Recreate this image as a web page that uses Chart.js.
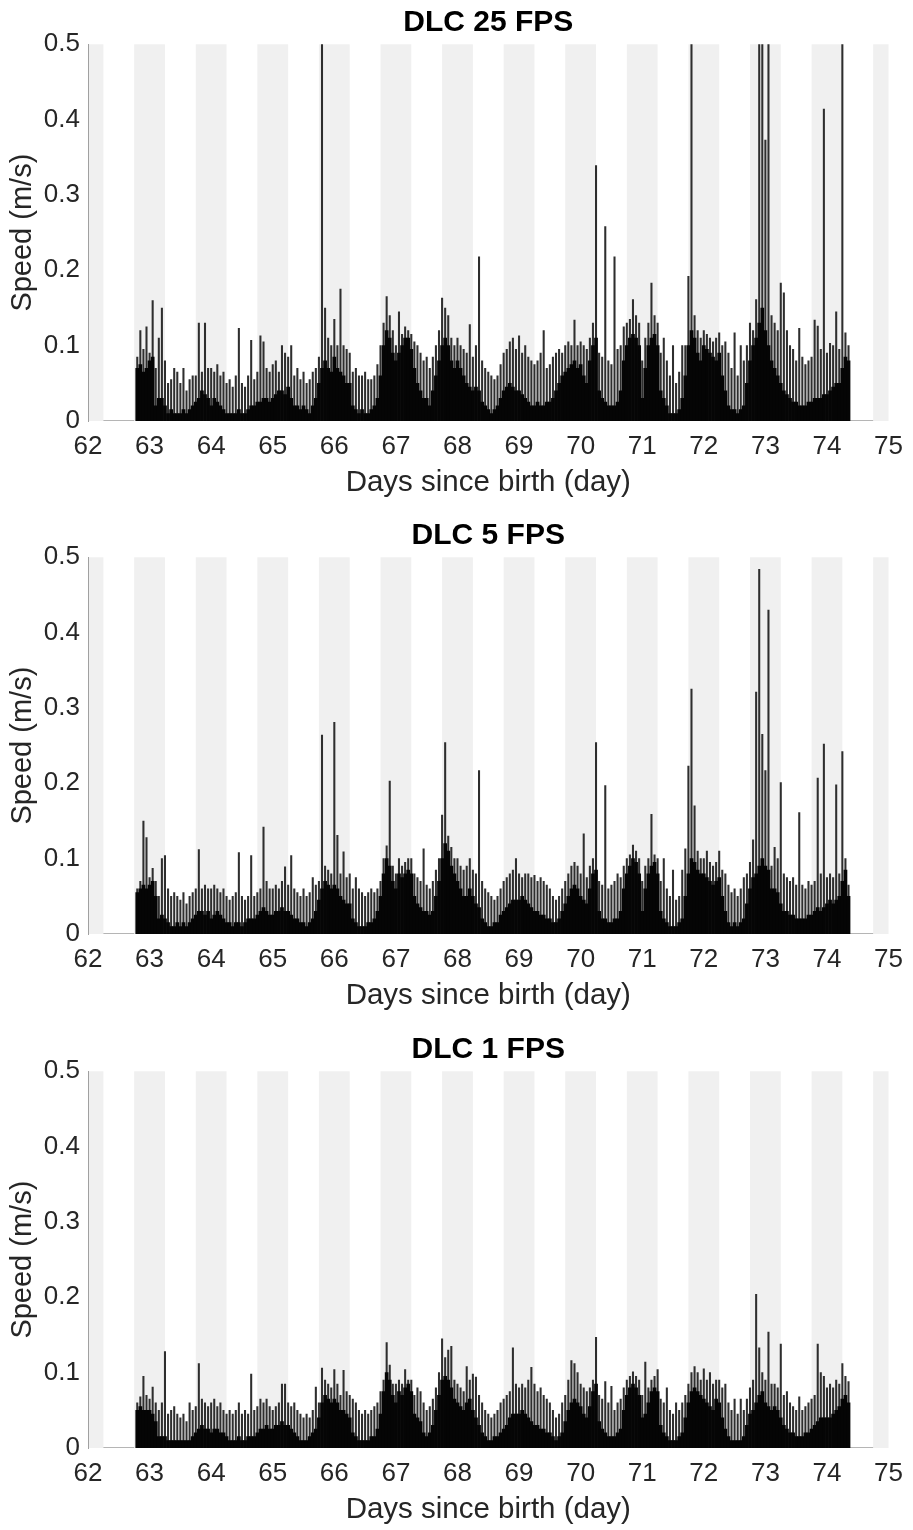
<!DOCTYPE html>
<html>
<head>
<meta charset="utf-8">
<script src="https://cdn.jsdelivr.net/npm/chart.js@4.4.1/dist/chart.umd.min.js"></script>
<style>
  body { margin: 0; background: #fff; width: 913px; height: 1530px; overflow: hidden; position: relative; }
  canvas { position: absolute; left: 0; }
</style>
</head>
<body>
<canvas id="fps25" width="913" height="513" style="top:0px"></canvas>
<canvas id="fps5" width="913" height="513" style="top:513px"></canvas>
<canvas id="fps1" width="913" height="513" style="top:1027px"></canvas>
<script>
//////////////////////////////// bins (day) ////////////////////////////////////
// one value every 0.05 day, first bin at 62.80, last at 74.35
const binStart = 62.8
const binStep = 0.05

// lights-off periods (grey), in days since birth
const nightStart = [61.75, 62.75, 63.75, 64.75, 65.75, 66.75, 67.75, 68.75, 69.75, 70.75, 71.75, 72.75, 73.75, 74.75]
const nightEnd = [62.25, 63.25, 64.25, 65.25, 66.25, 67.25, 68.25, 69.25, 70.25, 71.25, 72.25, 73.25, 74.25, 75.25]

// stretches recorded as zero speed
const idleSpans = [[62.25, 62.75], [74.35, 74.75]]

//////////////////////////////// DLC 25 FPS ////////////////////////////////////
// peak = highest spike in the bin, body = dense level of the trace
const peak25 = [
  0.085, 0.12, 0.095, 0.125,
  0.09, 0.16, 0.07, 0.11, 0.15, 0.08, 0.05, 0.055, 0.07, 0.065, 0.05, 0.07, 0.04, 0.055, 0.06, 0.06, 0.13, 0.065, 0.13, 0.07, // 63
  0.07, 0.065, 0.075, 0.06, 0.065, 0.05, 0.055, 0.045, 0.06, 0.123, 0.05, 0.045, 0.06, 0.107, 0.055, 0.065, 0.113, 0.105, 0.07, 0.065, // 64
  0.075, 0.08, 0.065, 0.1, 0.09, 0.085, 0.1, 0.06, 0.07, 0.055, 0.065, 0.05, 0.055, 0.065, 0.07, 0.085, 0.5, 0.15, 0.11, 0.1, // 65
  0.135, 0.1, 0.175, 0.1, 0.095, 0.09, 0.065, 0.07, 0.06, 0.06, 0.065, 0.055, 0.055, 0.06, 0.075, 0.1, 0.13, 0.165, 0.14, 0.12, // 66
  0.1, 0.145, 0.115, 0.125, 0.12, 0.115, 0.105, 0.1, 0.09, 0.08, 0.085, 0.07, 0.085, 0.1, 0.12, 0.163, 0.15, 0.14, 0.11, 0.1, // 67
  0.11, 0.1, 0.095, 0.09, 0.128, 0.085, 0.1, 0.218, 0.08, 0.07, 0.065, 0.06, 0.055, 0.06, 0.075, 0.09, 0.095, 0.105, 0.11, 0.095, // 68
  0.113, 0.09, 0.1, 0.085, 0.08, 0.075, 0.08, 0.09, 0.12, 0.07, 0.075, 0.085, 0.09, 0.095, 0.09, 0.1, 0.105, 0.1, 0.134, 0.1, // 69
  0.105, 0.1, 0.095, 0.11, 0.13, 0.339, 0.09, 0.085, 0.258, 0.08, 0.075, 0.218, 0.095, 0.1, 0.125, 0.13, 0.135, 0.161, 0.14, 0.13, // 70
  0.08, 0.11, 0.13, 0.183, 0.14, 0.13, 0.09, 0.11, 0.08, 0.06, 0.1, 0.05, 0.065, 0.1, 0.1, 0.192, 0.5, 0.14, 0.12, 0.11, // 71
  0.12, 0.115, 0.11, 0.105, 0.11, 0.117, 0.1, 0.105, 0.09, 0.07, 0.117, 0.06, 0.1, 0.08, 0.1, 0.13, 0.12, 0.161, 0.5, 0.5, // 72
  0.373, 0.5, 0.14, 0.13, 0.12, 0.183, 0.17, 0.12, 0.1, 0.095, 0.08, 0.123, 0.085, 0.075, 0.08, 0.085, 0.134, 0.126, 0.095, 0.414, // 73
  0.09, 0.103, 0.1, 0.145, 0.095, 0.5, 0.117, 0.1
]
const body25 = [
  0.07, 0.075, 0.065, 0.07,
  0.08, 0.085, 0.02, 0.03, 0.03, 0.02, 0.01, 0.015, 0.01, 0.01, 0.01, 0.015, 0.01, 0.015, 0.02, 0.025, 0.03, 0.04, 0.035, 0.03, // 63
  0.02, 0.03, 0.025, 0.02, 0.015, 0.01, 0.01, 0.01, 0.01, 0.015, 0.01, 0.01, 0.015, 0.02, 0.02, 0.025, 0.025, 0.03, 0.03, 0.025, // 64
  0.03, 0.035, 0.04, 0.04, 0.035, 0.045, 0.03, 0.02, 0.02, 0.015, 0.02, 0.015, 0.01, 0.02, 0.03, 0.05, 0.07, 0.08, 0.07, 0.065, // 65
  0.085, 0.07, 0.065, 0.06, 0.05, 0.05, 0.02, 0.015, 0.01, 0.015, 0.01, 0.01, 0.015, 0.02, 0.03, 0.06, 0.1, 0.12, 0.11, 0.09, // 66
  0.08, 0.09, 0.1, 0.11, 0.11, 0.095, 0.07, 0.05, 0.04, 0.03, 0.03, 0.02, 0.04, 0.06, 0.08, 0.1, 0.11, 0.1, 0.08, 0.07, // 67
  0.08, 0.07, 0.06, 0.05, 0.045, 0.04, 0.045, 0.04, 0.025, 0.02, 0.015, 0.01, 0.015, 0.02, 0.03, 0.04, 0.045, 0.05, 0.045, 0.04, // 68
  0.04, 0.035, 0.03, 0.025, 0.02, 0.02, 0.025, 0.02, 0.02, 0.025, 0.025, 0.03, 0.04, 0.05, 0.06, 0.065, 0.07, 0.075, 0.08, 0.07, // 69
  0.075, 0.06, 0.05, 0.08, 0.1, 0.11, 0.04, 0.03, 0.025, 0.02, 0.02, 0.02, 0.025, 0.04, 0.08, 0.1, 0.11, 0.115, 0.11, 0.1, // 70
  0.03, 0.07, 0.1, 0.11, 0.115, 0.1, 0.04, 0.03, 0.02, 0.01, 0.01, 0.01, 0.015, 0.03, 0.06, 0.1, 0.12, 0.11, 0.09, 0.08, // 71
  0.1, 0.095, 0.09, 0.085, 0.08, 0.09, 0.06, 0.04, 0.02, 0.015, 0.015, 0.01, 0.015, 0.02, 0.05, 0.08, 0.1, 0.11, 0.13, 0.15, // 72
  0.12, 0.1, 0.08, 0.07, 0.06, 0.05, 0.04, 0.035, 0.03, 0.025, 0.025, 0.02, 0.02, 0.02, 0.025, 0.025, 0.03, 0.03, 0.03, 0.035, // 73
  0.035, 0.04, 0.045, 0.05, 0.05, 0.07, 0.085, 0.08
]

//////////////////////////////// DLC 5 FPS /////////////////////////////////////
const peak5 = [
  0.06, 0.07, 0.15, 0.128,
  0.075, 0.087, 0.07, 0.05, 0.1, 0.104, 0.06, 0.05, 0.055, 0.05, 0.045, 0.055, 0.04, 0.05, 0.055, 0.06, 0.112, 0.06, 0.065, 0.06, // 63
  0.06, 0.065, 0.06, 0.055, 0.06, 0.05, 0.045, 0.05, 0.055, 0.108, 0.05, 0.045, 0.05, 0.104, 0.05, 0.055, 0.06, 0.142, 0.07, 0.06, // 64
  0.06, 0.065, 0.06, 0.07, 0.089, 0.065, 0.104, 0.06, 0.055, 0.05, 0.06, 0.05, 0.055, 0.075, 0.065, 0.07, 0.264, 0.09, 0.085, 0.08, // 65
  0.281, 0.131, 0.08, 0.109, 0.075, 0.08, 0.06, 0.075, 0.06, 0.055, 0.05, 0.055, 0.06, 0.055, 0.06, 0.07, 0.1, 0.117, 0.203, 0.09, // 66
  0.08, 0.1, 0.09, 0.095, 0.1, 0.1, 0.08, 0.075, 0.07, 0.113, 0.065, 0.06, 0.07, 0.085, 0.1, 0.158, 0.254, 0.13, 0.115, 0.1, // 67
  0.1, 0.09, 0.085, 0.09, 0.1, 0.085, 0.08, 0.217, 0.07, 0.06, 0.055, 0.05, 0.045, 0.05, 0.06, 0.07, 0.075, 0.08, 0.085, 0.1, // 68
  0.08, 0.075, 0.08, 0.08, 0.075, 0.078, 0.07, 0.075, 0.07, 0.065, 0.06, 0.05, 0.045, 0.05, 0.06, 0.07, 0.08, 0.09, 0.095, 0.09, // 69
  0.08, 0.133, 0.075, 0.09, 0.1, 0.254, 0.07, 0.065, 0.197, 0.06, 0.065, 0.07, 0.08, 0.075, 0.09, 0.1, 0.105, 0.118, 0.11, 0.1, // 70
  0.07, 0.09, 0.1, 0.159, 0.105, 0.1, 0.07, 0.1, 0.06, 0.05, 0.085, 0.045, 0.05, 0.085, 0.113, 0.223, 0.325, 0.17, 0.11, 0.1, // 71
  0.1, 0.11, 0.095, 0.09, 0.095, 0.11, 0.085, 0.08, 0.065, 0.055, 0.06, 0.05, 0.06, 0.075, 0.08, 0.095, 0.125, 0.321, 0.484, 0.265, // 72
  0.217, 0.43, 0.09, 0.115, 0.1, 0.201, 0.08, 0.075, 0.07, 0.075, 0.065, 0.161, 0.065, 0.06, 0.07, 0.065, 0.07, 0.207, 0.08, 0.252, // 73
  0.075, 0.08, 0.075, 0.198, 0.08, 0.242, 0.1, 0.065
]
const body5 = [
  0.055, 0.06, 0.065, 0.06,
  0.065, 0.07, 0.05, 0.02, 0.025, 0.02, 0.015, 0.01, 0.01, 0.015, 0.01, 0.015, 0.01, 0.015, 0.02, 0.025, 0.03, 0.03, 0.025, 0.03, // 63
  0.02, 0.025, 0.03, 0.025, 0.02, 0.015, 0.015, 0.01, 0.015, 0.015, 0.01, 0.015, 0.02, 0.02, 0.02, 0.025, 0.03, 0.035, 0.03, 0.025, // 64
  0.025, 0.03, 0.03, 0.035, 0.03, 0.03, 0.025, 0.02, 0.02, 0.015, 0.015, 0.01, 0.015, 0.02, 0.03, 0.045, 0.06, 0.07, 0.065, 0.06, // 65
  0.065, 0.06, 0.05, 0.045, 0.04, 0.04, 0.02, 0.015, 0.01, 0.01, 0.01, 0.015, 0.015, 0.02, 0.03, 0.05, 0.08, 0.1, 0.09, 0.07, // 66
  0.06, 0.08, 0.075, 0.08, 0.085, 0.08, 0.05, 0.04, 0.035, 0.03, 0.03, 0.025, 0.03, 0.05, 0.07, 0.1, 0.12, 0.11, 0.09, 0.08, // 67
  0.07, 0.06, 0.05, 0.05, 0.06, 0.05, 0.04, 0.035, 0.02, 0.015, 0.01, 0.01, 0.015, 0.015, 0.025, 0.03, 0.035, 0.04, 0.045, 0.045, // 68
  0.045, 0.05, 0.045, 0.04, 0.035, 0.03, 0.03, 0.025, 0.025, 0.02, 0.02, 0.015, 0.015, 0.02, 0.03, 0.04, 0.05, 0.06, 0.065, 0.06, // 69
  0.05, 0.045, 0.04, 0.06, 0.08, 0.085, 0.03, 0.02, 0.02, 0.015, 0.015, 0.02, 0.02, 0.03, 0.06, 0.08, 0.09, 0.1, 0.095, 0.08, // 70
  0.03, 0.06, 0.08, 0.09, 0.095, 0.08, 0.03, 0.02, 0.015, 0.01, 0.01, 0.01, 0.015, 0.02, 0.05, 0.08, 0.1, 0.095, 0.085, 0.08, // 71
  0.08, 0.075, 0.07, 0.065, 0.07, 0.075, 0.05, 0.03, 0.015, 0.01, 0.015, 0.01, 0.015, 0.02, 0.04, 0.06, 0.075, 0.08, 0.09, 0.1, // 72
  0.09, 0.085, 0.06, 0.06, 0.055, 0.04, 0.03, 0.03, 0.025, 0.025, 0.02, 0.02, 0.02, 0.02, 0.025, 0.025, 0.03, 0.035, 0.03, 0.035, // 73
  0.04, 0.045, 0.04, 0.045, 0.05, 0.07, 0.085, 0.05
]

//////////////////////////////// DLC 1 FPS /////////////////////////////////////
const peak1 = [
  0.06, 0.068, 0.095, 0.07,
  0.065, 0.081, 0.06, 0.05, 0.06, 0.128, 0.045, 0.05, 0.055, 0.045, 0.04, 0.045, 0.035, 0.06, 0.05, 0.055, 0.112, 0.065, 0.06, 0.055, // 63
  0.06, 0.065, 0.055, 0.06, 0.05, 0.045, 0.05, 0.045, 0.05, 0.06, 0.045, 0.05, 0.045, 0.098, 0.05, 0.055, 0.065, 0.06, 0.065, 0.055, // 64
  0.05, 0.055, 0.06, 0.085, 0.085, 0.06, 0.055, 0.06, 0.05, 0.045, 0.04, 0.045, 0.04, 0.05, 0.081, 0.06, 0.106, 0.09, 0.085, 0.08, // 65
  0.104, 0.085, 0.07, 0.103, 0.075, 0.07, 0.065, 0.06, 0.05, 0.045, 0.05, 0.045, 0.05, 0.055, 0.06, 0.075, 0.09, 0.14, 0.11, 0.085, // 66
  0.085, 0.09, 0.085, 0.104, 0.09, 0.09, 0.07, 0.08, 0.075, 0.06, 0.05, 0.055, 0.065, 0.08, 0.1, 0.145, 0.12, 0.13, 0.135, 0.09, // 67
  0.085, 0.08, 0.075, 0.108, 0.09, 0.098, 0.094, 0.07, 0.06, 0.05, 0.045, 0.04, 0.045, 0.05, 0.06, 0.065, 0.07, 0.075, 0.133, 0.085, // 68
  0.08, 0.085, 0.08, 0.09, 0.107, 0.085, 0.075, 0.08, 0.07, 0.065, 0.06, 0.05, 0.04, 0.045, 0.06, 0.07, 0.09, 0.116, 0.112, 0.1, // 69
  0.085, 0.08, 0.075, 0.08, 0.09, 0.147, 0.07, 0.065, 0.088, 0.06, 0.082, 0.05, 0.06, 0.065, 0.08, 0.09, 0.095, 0.101, 0.095, 0.09, // 70
  0.07, 0.114, 0.08, 0.09, 0.095, 0.104, 0.065, 0.06, 0.08, 0.05, 0.045, 0.06, 0.05, 0.06, 0.07, 0.085, 0.1, 0.108, 0.1, 0.09, // 71
  0.105, 0.09, 0.1, 0.085, 0.09, 0.09, 0.08, 0.085, 0.06, 0.05, 0.065, 0.045, 0.065, 0.05, 0.065, 0.08, 0.09, 0.204, 0.133, 0.1, // 72
  0.09, 0.154, 0.085, 0.085, 0.08, 0.138, 0.07, 0.075, 0.06, 0.055, 0.05, 0.068, 0.05, 0.055, 0.06, 0.065, 0.07, 0.138, 0.1, 0.095, // 73
  0.08, 0.085, 0.08, 0.09, 0.085, 0.112, 0.095, 0.088
]
const body1 = [
  0.05, 0.055, 0.05, 0.05,
  0.05, 0.045, 0.035, 0.015, 0.015, 0.015, 0.01, 0.01, 0.01, 0.01, 0.01, 0.01, 0.01, 0.01, 0.015, 0.02, 0.025, 0.03, 0.025, 0.025, // 63
  0.02, 0.025, 0.025, 0.02, 0.02, 0.015, 0.01, 0.01, 0.01, 0.015, 0.01, 0.01, 0.015, 0.015, 0.015, 0.02, 0.025, 0.025, 0.03, 0.025, // 64
  0.025, 0.03, 0.03, 0.035, 0.03, 0.03, 0.025, 0.02, 0.015, 0.01, 0.01, 0.01, 0.015, 0.02, 0.025, 0.04, 0.06, 0.07, 0.065, 0.06, // 65
  0.065, 0.06, 0.05, 0.05, 0.045, 0.04, 0.02, 0.015, 0.01, 0.01, 0.01, 0.01, 0.015, 0.015, 0.025, 0.045, 0.075, 0.1, 0.09, 0.07, // 66
  0.06, 0.075, 0.07, 0.08, 0.085, 0.075, 0.045, 0.04, 0.035, 0.02, 0.015, 0.02, 0.03, 0.05, 0.07, 0.09, 0.095, 0.09, 0.08, 0.065, // 67
  0.06, 0.055, 0.05, 0.06, 0.065, 0.05, 0.04, 0.03, 0.02, 0.015, 0.01, 0.01, 0.015, 0.015, 0.02, 0.025, 0.03, 0.04, 0.045, 0.045, // 68
  0.045, 0.05, 0.045, 0.04, 0.035, 0.03, 0.03, 0.025, 0.025, 0.02, 0.02, 0.015, 0.01, 0.015, 0.02, 0.035, 0.05, 0.06, 0.065, 0.06, // 69
  0.055, 0.045, 0.04, 0.055, 0.075, 0.085, 0.035, 0.025, 0.02, 0.015, 0.015, 0.015, 0.02, 0.025, 0.05, 0.07, 0.08, 0.085, 0.08, 0.07, // 70
  0.04, 0.045, 0.06, 0.075, 0.08, 0.075, 0.03, 0.02, 0.015, 0.01, 0.01, 0.01, 0.015, 0.02, 0.04, 0.06, 0.075, 0.08, 0.075, 0.07, // 71
  0.065, 0.06, 0.055, 0.05, 0.065, 0.06, 0.04, 0.025, 0.015, 0.01, 0.01, 0.01, 0.01, 0.015, 0.03, 0.045, 0.05, 0.06, 0.07, 0.075, // 72
  0.06, 0.055, 0.05, 0.055, 0.05, 0.04, 0.03, 0.025, 0.02, 0.02, 0.015, 0.015, 0.015, 0.02, 0.02, 0.025, 0.03, 0.035, 0.04, 0.04, // 73
  0.04, 0.04, 0.045, 0.05, 0.055, 0.065, 0.07, 0.06
]
////////////////////////////////////////////////////////////////////////////////

const fontFamily = "'Liberation Sans', Arial, Helvetica, sans-serif"

// grey bands behind everything, clipped to the plot area
const nightBands = {
  id: 'nightBands',
  beforeDraw(chart) {
    const { ctx, chartArea, scales } = chart
    ctx.save()
    ctx.fillStyle = '#f0f0f0'
    nightStart.forEach((s, i) => {
      const l = Math.max(scales.x.getPixelForValue(s), chartArea.left)
      const r = Math.min(scales.x.getPixelForValue(nightEnd[i]), chartArea.right)
      if (r > l) ctx.fillRect(l, chartArea.top, r - l, chartArea.bottom - chartArea.top)
    })
    ctx.restore()
  }
}

function toPoints(vals) {
  return vals.map((v, i) => ({ x: binStart + i * binStep, y: v }))
}

function idlePoints() {
  const pts = []
  idleSpans.forEach(([a, b]) => {
    pts.push({ x: a, y: 0 }, { x: b, y: 0 }, { x: b, y: null })
  })
  return pts
}

function speedChart(id, title, peak, body) {
  return new Chart(document.getElementById(id), {
    type: 'line',
    data: {
      datasets: [{
          // dense part of the trace, one column per bin
          type: 'bar',
          data: toPoints(body),
          backgroundColor: '#050505',
          borderWidth: 0,
          barPercentage: 1,
          categoryPercentage: 1,
          grouped: false
        },
        {
          // single spikes
          type: 'bar',
          data: toPoints(peak),
          backgroundColor: '#2e2e2e',
          borderWidth: 0,
          barThickness: 1.4,
          grouped: false
        },
        {
          type: 'line',
          data: idlePoints(),
          borderColor: '#6b6b6b',
          borderWidth: 1,
          pointRadius: 0,
          spanGaps: false
        }
      ]
    },
    options: {
      responsive: false,
      animation: false,
      events: [],
      layout: { padding: { left: 0, right: 21, top: 0, bottom: 0 } },
      plugins: {
        legend: { display: false },
        tooltip: { enabled: false },
        title: {
          display: true,
          text: title,
          fullSize: false,
          color: '#000',
          font: { family: fontFamily, size: 30, weight: 'bold', lineHeight: 1.2 },
          padding: { top: 5, bottom: 3.3 }
        }
      },
      scales: {
        x: {
          type: 'linear',
          min: 62,
          max: 75,
          offset: false,
          grid: { display: false, drawTicks: false, offset: false },
          border: { display: false },
          ticks: {
            stepSize: 1,
            autoSkip: false,
            maxRotation: 0,
            padding: 10,
            color: '#262626',
            font: { family: fontFamily, size: 26 },
            callback: v => String(v)
          },
          title: {
            display: true,
            text: 'Days since birth (day)',
            color: '#262626',
            font: { family: fontFamily, size: 29.5 },
            padding: { top: 0, bottom: 12 }
          },
          afterFit: s => { s.height = 92 }
        },
        y: {
          min: 0,
          max: 0.5,
          grid: { display: false, drawTicks: false },
          border: { display: true, color: '#a0a0a0', width: 1 },
          ticks: {
            stepSize: 0.1,
            padding: 8,
            color: '#262626',
            font: { family: fontFamily, size: 26 },
            callback: v => (v === 0 ? '0' : v.toFixed(1))
          },
          title: {
            display: true,
            text: 'Speed (m/s)',
            color: '#262626',
            font: { family: fontFamily, size: 29 },
            padding: { top: 6, bottom: 0 }
          },
          afterFit: s => { s.width = 88 }
        }
      }
    },
    plugins: [nightBands]
  })
}

speedChart('fps25', 'DLC 25 FPS', peak25, body25)
speedChart('fps5', 'DLC 5 FPS', peak5, body5)
speedChart('fps1', 'DLC 1 FPS', peak1, body1)
</script>
</body>
</html>
